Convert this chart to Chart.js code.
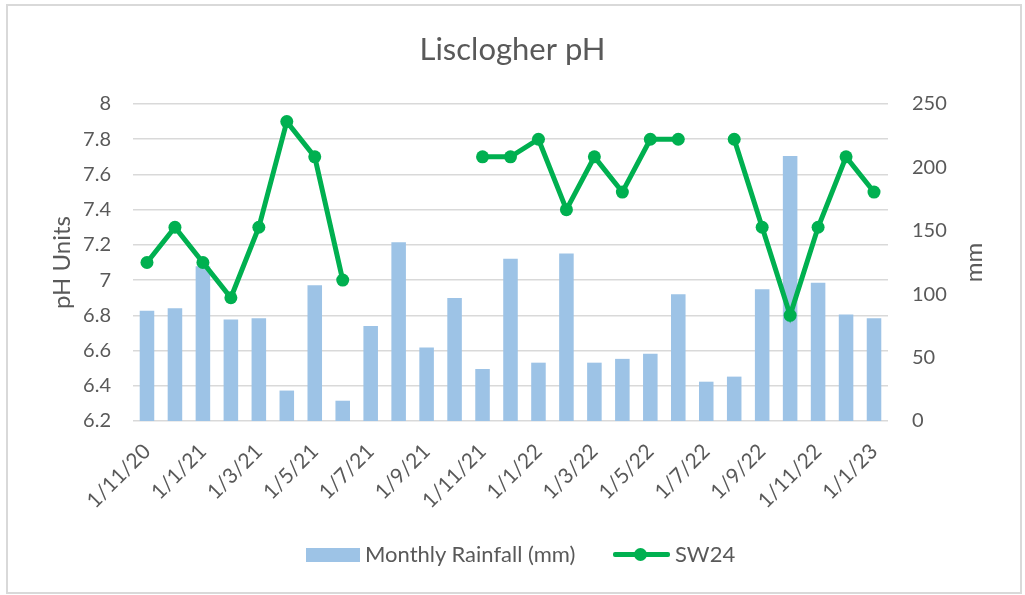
<!DOCTYPE html>
<html><head><meta charset="utf-8">
<script src="https://cdn.jsdelivr.net/npm/chart.js@4.4.1/dist/chart.umd.min.js"></script>
<style>
html,body{margin:0;padding:0;background:#fff;}
body{width:1025px;height:595px;position:relative;overflow:hidden;font-family:Lato,sans-serif;color:#595959;}
#frame{position:absolute;left:6px;top:4px;width:1016px;height:590px;border:2px solid #d9d9d9;box-sizing:border-box;}
#wrap{position:absolute;left:0;top:0;width:1025px;height:595px;}
.lg{position:absolute;}
.lgtext{position:absolute;font-size:22px;line-height:26px;top:541px;color:#595959;white-space:nowrap;}
</style></head>
<body>
<div id="frame"></div>
<div id="wrap"><canvas id="c" width="1025" height="595"></canvas></div>
<div class="lg" style="left:306px;top:548px;width:54px;height:14px;background:#9DC3E6;"></div>
<div class="lgtext" style="left:365px;">Monthly Rainfall (mm)</div>
<div class="lg" style="left:613px;top:552px;width:57px;height:5px;background:#00B050;border-radius:2px;"></div>
<div class="lg" style="left:634px;top:548px;width:13px;height:13px;background:#00B050;border-radius:50%;"></div>
<div class="lgtext" style="left:675px;">SW24</div>
<script>
const categories = ['1/11/20','1/12/20','1/1/21','1/2/21','1/3/21','1/4/21','1/5/21','1/6/21','1/7/21','1/8/21','1/9/21','1/10/21','1/11/21','1/12/21','1/1/22','1/2/22','1/3/22','1/4/22','1/5/22','1/6/22','1/7/22','1/8/22','1/9/22','1/10/22','1/11/22','1/12/22','1/1/23'];
const rainfall = [87,89,122,80,81,24,107,16,75,141,58,97,41,128,46,132,46,49,53,100,31,35,104,209,109,84,81];
const sw24 = [7.1,7.3,7.1,6.9,7.3,7.9,7.7,7.0,null,null,null,null,7.7,7.7,7.8,7.4,7.7,7.5,7.8,7.8,null,7.8,7.3,6.8,7.3,7.7,7.5];
const phTicks = {min:6.2, max:8, step:0.2};
const mmTicks = {min:0, max:250, step:50};

const TXT = '#595959';
const FONT = 'Lato';
const AREA = {left:133, right:888, top:104, bottom:421};

const axisTitles = {
  id:'axisTitles',
  afterDraw(chart){
    const ctx = chart.ctx;
    ctx.save();
    ctx.fillStyle = TXT;
    ctx.font = '24px ' + FONT;
    ctx.textAlign = 'center';
    ctx.textBaseline = 'middle';
    const cy = (chart.chartArea.top + chart.chartArea.bottom)/2;
    [['pH Units', 62], ['mm', 974]].forEach(([t,x])=>{
      ctx.save(); ctx.translate(x, cy); ctx.rotate(-Math.PI/2); ctx.fillText(t,0,0); ctx.restore();
    });
    ctx.restore();
  }
};

new Chart(document.getElementById('c'), {
  data:{
    labels: categories,
    datasets:[
      {type:'line', label:'SW24', data:sw24, yAxisID:'y', borderColor:'#00B050', backgroundColor:'#00B050',
       borderWidth:5, pointRadius:6.5, pointHoverRadius:6.5, pointBorderWidth:0, spanGaps:false, order:0, tension:0},
      {type:'bar', label:'Monthly Rainfall (mm)', data:rainfall, yAxisID:'y1', backgroundColor:'#9DC3E6',
       barPercentage:0.52, categoryPercentage:1, order:1}
    ]
  },
  options:{
    responsive:false, animation:false, devicePixelRatio:1,
    layout:{padding:{left:8, right:8, top:0, bottom:0}},
    plugins:{
      legend:{display:false}, tooltip:{enabled:false},
      title:{display:true, text:'Lisclogher pH', color:TXT, font:{family:FONT, size:31, weight:'normal', lineHeight:1.2}, padding:{top:31, bottom:35.8}}
    },
    scales:{
      x:{offset:true, grid:{display:false, drawTicks:false}, border:{display:false},
         ticks:{autoSkip:false, minRotation:45, maxRotation:45, color:TXT, font:{family:FONT, size:21}, padding:18,
                callback:(v,i)=> i%2===0 ? categories[i] : ''},
         afterFit(s){ s.height = 595 - AREA.bottom; }},
      y:{position:'left', min:phTicks.min, max:phTicks.max,
         ticks:{stepSize:phTicks.step, color:TXT, font:{family:FONT, size:20}, padding:22,
                callback:v=> String(Math.round(v*10)/10)},
         grid:{color:'#d9d9d9', lineWidth:1.5, drawTicks:false}, border:{display:false},
         afterFit(s){ s.width = AREA.left - 8; }},
      y1:{position:'right', min:mmTicks.min, max:mmTicks.max,
         ticks:{stepSize:mmTicks.step, color:TXT, font:{family:FONT, size:20}, padding:24},
         grid:{display:false, drawTicks:false}, border:{display:false},
         afterFit(s){ s.width = 1025 - AREA.right - 8; }}
    }
  },
  plugins:[axisTitles]
});
</script>
</body></html>
